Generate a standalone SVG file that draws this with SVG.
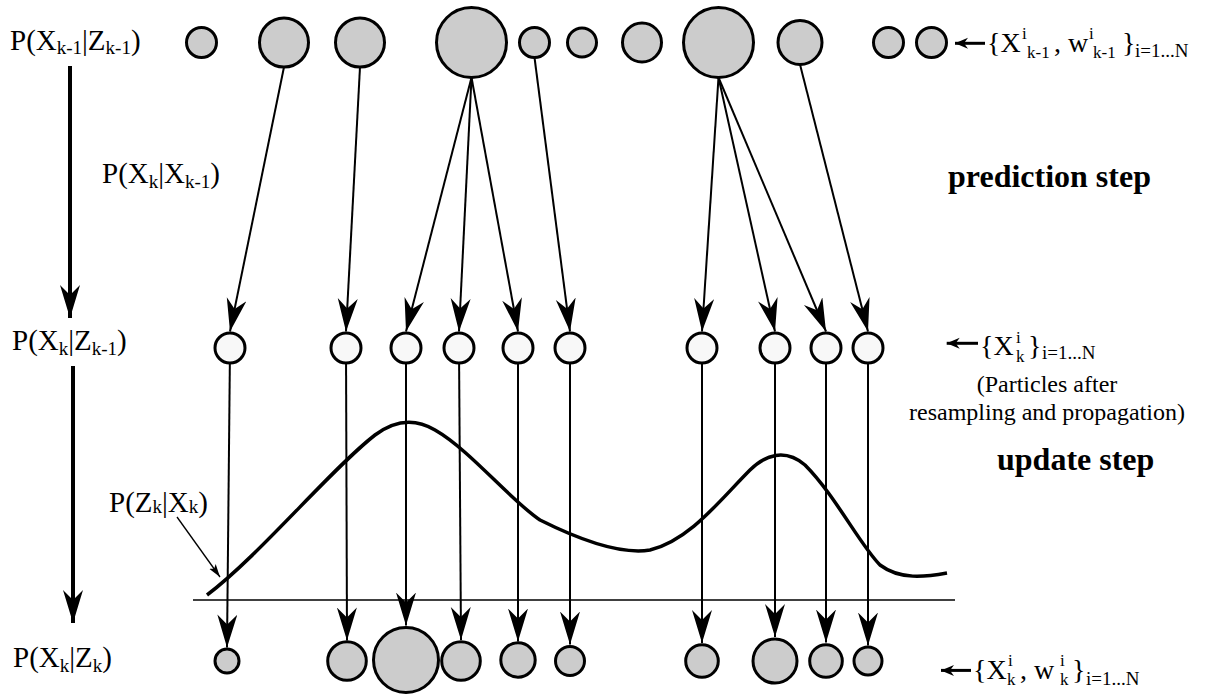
<svg xmlns="http://www.w3.org/2000/svg" width="1207" height="697" viewBox="0 0 1207 697">
<style>
text{font-family:"Liberation Serif","Times New Roman",serif;fill:#000}
.lbl{font-size:29px}
.sub{font-size:19px}
.ss{font-size:17px}
.big{font-size:28px}
.bold{font-size:32px;font-weight:bold}
.note{font-size:24px}
.g{fill:#cccccc;stroke:#000;stroke-width:3}
.w{fill:#f8f8f8;stroke:#000;stroke-width:3}
.con{stroke:#000;stroke-width:2;fill:none;marker-end:url(#arrL)}
.thick{stroke:#000;stroke-width:4;fill:none;marker-end:url(#arrL)}
.sm{stroke:#000;stroke-width:3;fill:none;marker-end:url(#arrS)}
</style>
<defs>
<marker id="arrL" markerUnits="userSpaceOnUse" markerWidth="34" markerHeight="22" refX="33" refY="10" orient="auto"><path d="M0,0 L33,10 L0,20 L10,10 Z" fill="#000"/></marker>
<marker id="arrS" markerUnits="userSpaceOnUse" markerWidth="14" markerHeight="12" refX="13" refY="5.5" orient="auto"><path d="M0,0 L13,5.5 L0,11 L4,5.5 Z" fill="#000"/></marker>
<marker id="arrP" markerUnits="userSpaceOnUse" markerWidth="14" markerHeight="10" refX="13" refY="4" orient="auto"><path d="M0,0 L13,4 L0,8 L3,4 Z" fill="#000"/></marker>
</defs>
<rect width="1207" height="697" fill="#fff"/>

<g id="connectors">
<path class="thick" d="M70,66 L70,318"/>
<path class="thick" d="M73,366 L73,623"/>
<path class="con" d="M284,67 L230,331.5"/>
<path class="con" d="M360,67 L346,331.5"/>
<path class="con" d="M471.5,77.5 L406,331.5"/>
<path class="con" d="M471.5,77.5 L459,331.5"/>
<path class="con" d="M471.5,77.5 L518,331.5"/>
<path class="con" d="M534.5,57.5 L570,331.5"/>
<path class="con" d="M718.5,77.5 L702,331.5"/>
<path class="con" d="M718.5,77.5 L775,331.5"/>
<path class="con" d="M718.5,77.5 L826,331.5"/>
<path class="con" d="M800,64.5 L868,331.5"/>
<path class="con" d="M230,348 L227,647.5"/>
<path class="con" d="M346,348 L347,640.5"/>
<path class="con" d="M406,348 L406,625.5"/>
<path class="con" d="M459,348 L461,640"/>
<path class="con" d="M518,348 L518,641.5"/>
<path class="con" d="M570,348 L570,644.5"/>
<path class="con" d="M702,348 L702,643"/>
<path class="con" d="M775,348 L775,637"/>
<path class="con" d="M826,348 L826,642.5"/>
<path class="con" d="M868,348 L868,645.5"/>
<path class="sm" d="M985,43.3 L955,43.3"/>
<path class="sm" d="M978,343.3 L946.7,343.3"/>
<path class="sm" d="M971,670.4 L941,670.4"/>
<path d="M177,517 L220,577" stroke="#000" stroke-width="1.3" fill="none" marker-end="url(#arrP)"/>
</g>

<g id="likelihood">
<path d="M207,595 C260,555 330,470 375,435 C395,420 415,418 435,430 C470,450 510,500 540,520 C580,540 620,555 650,550 C690,540 720,500 750,470 C765,455 785,448 805,465 C835,495 860,545 880,565 C900,580 925,577 947,573" fill="none" stroke="#000" stroke-width="3.5"/>
<line x1="193" y1="600" x2="955" y2="600" stroke="#000" stroke-width="1.5"/>
</g>

<g id="prior-particles">
<circle class="g" cx="201.5" cy="42.5" r="15"/>
<circle class="g" cx="284" cy="42.5" r="24.5"/>
<circle class="g" cx="360" cy="42.5" r="24.5"/>
<circle class="g" cx="471.5" cy="42.5" r="35"/>
<circle class="g" cx="534.5" cy="42.5" r="15"/>
<circle class="g" cx="582" cy="42.5" r="14.5"/>
<circle class="g" cx="642" cy="42.5" r="19.5"/>
<circle class="g" cx="718.5" cy="42.5" r="35"/>
<circle class="g" cx="800" cy="42.5" r="22"/>
<circle class="g" cx="888.5" cy="42.5" r="15"/>
<circle class="g" cx="931.5" cy="42.5" r="15"/>
</g>

<g id="predicted-particles">
<circle class="w" cx="230" cy="348" r="15"/>
<circle class="w" cx="346" cy="348" r="15"/>
<circle class="w" cx="406" cy="348" r="15"/>
<circle class="w" cx="459" cy="348" r="15"/>
<circle class="w" cx="518" cy="348" r="15"/>
<circle class="w" cx="570" cy="348" r="15"/>
<circle class="w" cx="702" cy="348" r="15"/>
<circle class="w" cx="775" cy="348" r="15"/>
<circle class="w" cx="826" cy="348" r="15"/>
<circle class="w" cx="868" cy="348" r="15"/>
</g>

<g id="posterior-particles">
<circle class="g" cx="227" cy="661" r="12"/>
<circle class="g" cx="347" cy="661" r="19.3"/>
<circle class="g" cx="406" cy="660" r="32.5"/>
<circle class="g" cx="461" cy="661" r="19.3"/>
<circle class="g" cx="518" cy="660" r="17.2"/>
<circle class="g" cx="570" cy="661" r="14.5"/>
<circle class="g" cx="702" cy="661" r="16.3"/>
<circle class="g" cx="775" cy="661" r="22"/>
<circle class="g" cx="826" cy="661" r="16.3"/>
<circle class="g" cx="868" cy="661" r="14"/>
</g>

<g id="label-prior">
<text class="lbl" x="10" y="50">P(X<tspan class="sub" dy="4">k-1</tspan><tspan dy="-4">|Z</tspan><tspan class="sub" dy="4">k-1</tspan><tspan dy="-4">)</tspan></text>
</g>
<g id="label-transition">
<text class="lbl" x="102" y="183">P(X<tspan class="sub" dy="5">k</tspan><tspan dy="-5">|X</tspan><tspan class="sub" dy="5">k-1</tspan><tspan dy="-5">)</tspan></text>
</g>
<g id="label-predicted">
<text class="lbl" x="12" y="350">P(X<tspan class="sub" dy="5">k</tspan><tspan dy="-5">|Z</tspan><tspan class="sub" dy="5">k-1</tspan><tspan dy="-5">)</tspan></text>
</g>
<g id="label-likelihood">
<text class="lbl" x="109" y="512">P(Z<tspan class="sub" dy="1">k</tspan><tspan dy="-1">|X</tspan><tspan class="sub" dy="1">k</tspan><tspan dy="-1">)</tspan></text>
</g>
<g id="label-posterior">
<text class="lbl" x="13" y="667">P(X<tspan class="sub" dy="5">k</tspan><tspan dy="-5">|Z</tspan><tspan class="sub" dy="5">k</tspan><tspan dy="-5">)</tspan></text>
</g>

<g id="label-prior-set">
<text class="big" x="987" y="51.7">{X</text>
<text class="ss" x="1022" y="39">i</text>
<text class="ss" x="1027" y="58">k-1</text>
<text class="big" x="1054" y="51.7">, w</text>
<text class="ss" x="1089" y="39">i</text>
<text class="ss" x="1093" y="58">k-1</text>
<text class="big" x="1122" y="51.7">}</text>
<text class="sub" x="1135" y="57">i=1...N</text>
</g>

<g id="label-predicted-set">
<text class="big" x="980" y="355">{X</text>
<text class="ss" x="1016" y="343">i</text>
<text class="ss" x="1016" y="362">k</text>
<text class="big" x="1028" y="355">}</text>
<text class="sub" x="1042" y="359">i=1...N</text>
<text class="note" x="1047" y="392" text-anchor="middle">(Particles after</text>
<text class="note" x="1047" y="420" text-anchor="middle">resampling and propagation)</text>
</g>

<g id="label-posterior-set">
<text class="big" x="973" y="679">{X</text>
<text class="ss" x="1008" y="666">i</text>
<text class="ss" x="1007" y="685">k</text>
<text class="big" x="1020" y="679">, w</text>
<text class="ss" x="1060" y="666">i</text>
<text class="ss" x="1060" y="685">k</text>
<text class="big" x="1072" y="679">}</text>
<text class="sub" x="1086" y="685">i=1...N</text>
</g>

<g id="steps">
<text class="bold" x="948" y="187">prediction step</text>
<text class="bold" x="997" y="470">update step</text>
</g>
</svg>
